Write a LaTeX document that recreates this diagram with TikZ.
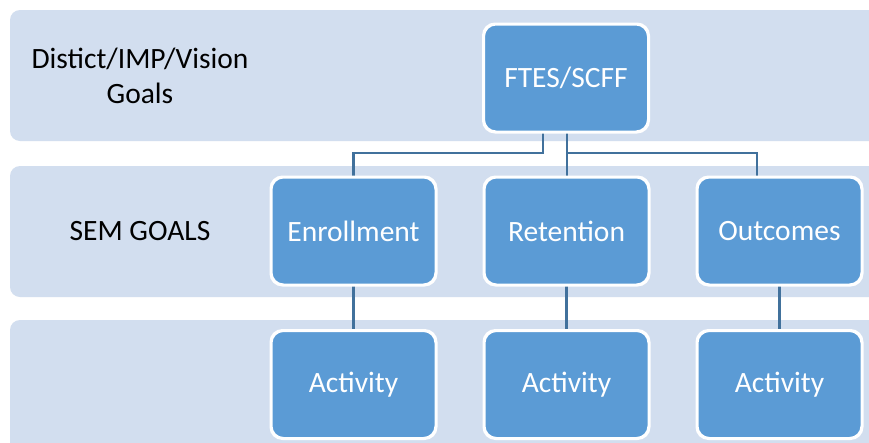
\documentclass[tikz,border=0pt]{standalone}
\usepackage{fontspec}
\setmainfont{Carlito}
\definecolor{bandfill}{HTML}{D2DEEF}
\definecolor{boxfill}{HTML}{5B9BD5}
\definecolor{conncol}{HTML}{41719C}
\tikzset{
  band/.style={fill=bandfill, draw=none, rounded corners=10pt},
  box/.style={draw=white, line width=2pt, fill=boxfill, rounded corners=12pt,
    minimum width=164pt, minimum height=107pt, text=white, font=\fontsize{29.5}{35}\selectfont, inner sep=0pt},
  lbl/.style={text=black, font=\fontsize{29.5}{35}\selectfont, align=center},
  conn/.style={draw=conncol, line width=2.5pt}
}
\begin{document}
\begin{tikzpicture}[x=1pt,y=-1pt]
\useasboundingbox (0,0) rectangle (869,442);
\clip (0,0) rectangle (869,442);
\fill[white] (0,0) rectangle (869,442);
\path[band] (10,10) rectangle (890,141);
\path[band] (10,166) rectangle (890,297);
\path[band] (10,320) rectangle (890,470);
\node[lbl] (l1) at (140,76) {Distict/IMP/Vision\\Goals};
\node[lbl] (l2) at (140,231) {SEM GOALS};
\coordinate (lmid) at (543,153);
\coordinate (rmid) at (567,153);
\coordinate (omid) at (757,153);
\node[box] (ftes) at (566,78) {FTES/SCFF};
\node[box] (enr) at (353.5,231) {Enrollment};
\node[box] (ret) at (566.5,231) {Retention};
\node[box] (out) at (779.5,231) {Outcomes};
\node[box] (a1) at (353.5,384.5) {Activity};
\node[box] (a2) at (566.5,384.5) {Activity};
\node[box] (a3) at (779.5,384.5) {Activity};
\draw[conn] (ftes.south -| lmid) -- (lmid) -| (enr.north);
\draw[conn] (ftes.south -| rmid) -- (rmid |- ret.north);
\draw[conn] (rmid) -- (omid) -- (omid |- out.north);
\draw[conn] (enr.south) -- (a1.north);
\draw[conn] (ret.south) -- (a2.north);
\draw[conn] (out.south) -- (a3.north);
\foreach \n in {ftes,enr,ret,out,a1,a2,a3}{
  \draw[white, line width=2pt, rounded corners=12pt] (\n.south west) rectangle (\n.north east);
}
\end{tikzpicture}
\end{document}
